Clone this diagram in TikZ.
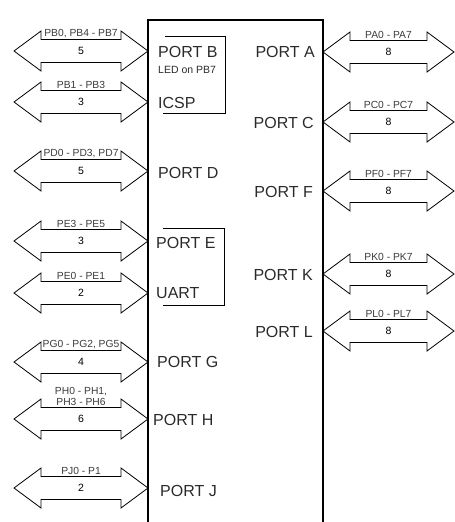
\documentclass[tikz,border=0pt]{standalone}
\usepackage{fontspec}
\setmainfont{Liberation Sans}
\usetikzlibrary{positioning, calc}
\usepackage{xcolor}
\definecolor{chipgray}{HTML}{2A2A2A}
\definecolor{pingray}{HTML}{3A3A3A}

\tikzset{
  bus/.style={draw=black, line width=0.8pt, line join=miter},
  portlbl/.style={font=\fontsize{16}{18}\selectfont, text=chipgray, inner sep=0pt},
  ledlbl/.style={font=\fontsize{10.5}{12}\selectfont, text=chipgray, inner sep=0pt},
  pinlbl/.style={font=\fontsize{10.3}{11}\selectfont, text=pingray, inner sep=0pt, align=center, anchor=south},
  cntlbl/.style={font=\fontsize{10.5}{12}\selectfont, text=black, inner sep=0pt},
}

% bus arrow: name, x left tip, x right tip, y centre, pin text, count
\newcommand{\busarrow}[6]{%
  \draw[bus] (#2,#4) -- ++(27,-20) -- ++(0,8.5) -- (#3-27,#4-11.5) -- ++(0,-8.5)
    -- (#3,#4) -- ++(-27,20) -- ++(0,-8.5) -- (#2+27,#4+11.5) -- ++(0,8.5) -- cycle;
  \node[pinlbl] (#1pins) at ({(#2+#3)/2},#4-12.8) {#5};
  \node[cntlbl] (#1n) at ({(#2+#3)/2},#4) {#6};
}

\begin{document}
\begin{tikzpicture}[x=1pt, y=-1pt]
  \useasboundingbox (0,0) rectangle (455,522);

  % the chip, open at the bottom
  \coordinate (chipnw) at (148,20);
  \coordinate (chipne) at (323,20);
  \draw[line width=1.4pt] (chipnw |- 0,523) -- (chipnw) -- (chipne) -- (chipne |- 0,523);

  % left ports
  \node[portlbl, anchor=west] (portB) at (158,52) {PORT B};
  \node[ledlbl, anchor=west] (ledB) at (158,70) {LED on PB7};
  \node[portlbl, anchor=west] (icsp) at (158,103) {ICSP};
  \node[portlbl, anchor=west] (portD) at (158,173) {PORT D};
  \node[portlbl, anchor=west] (portE) at (156,243) {PORT E};
  \node[portlbl, anchor=west] (uart) at (156,293) {UART};
  \node[portlbl, anchor=west] (portG) at (157,362) {PORT G};
  \node[portlbl, anchor=west] (portH) at (153,420) {PORT H};
  \node[portlbl, anchor=west] (portJ) at (160,491) {PORT J};

  % right ports
  \node[portlbl, anchor=east] (portA) at (315,52) {PORT A};
  \node[portlbl, anchor=east] (portC) at (314,123) {PORT C};
  \node[portlbl, anchor=east] (portF) at (313,192) {PORT F};
  \node[portlbl, anchor=east] (portK) at (313,275) {PORT K};
  \node[portlbl, anchor=east] (portL) at (313,332) {PORT L};

  % brackets for shared ports
  \draw[line width=0.8pt] (165,36) -- (225,36) -- (225,113) -- (163,113);
  \draw[line width=0.8pt] (163,228) -- (224,228) -- (224,305) -- (163,305);

  % buses
  \foreach \nm/\y/\pins/\cnt in {pb/51/{PB0, PB4 - PB7}/5, icspb/102/{PB1 - PB3}/3,
      pd/171/{PD0 - PD3, PD7}/5, pe/241/{PE3 - PE5}/3, uarte/293/{PE0 - PE1}/2,
      pg/362/{PG0 - PG2, PG5}/4, ph/419/{PH0 - PH1,\\PH3 - PH6}/6, pj/488/{PJ0 - P1}/2}
    \busarrow{\nm}{14}{148}{\y}{\pins}{\cnt};
  \foreach \nm/\y/\pins in {pa/52/{PA0 - PA7}, pc/122/{PC0 - PC7}, pf/191/{PF0 - PF7},
      pk/274/{PK0 - PK7}, pl/331/{PL0 - PL7}}
    \busarrow{\nm}{323}{454}{\y}{\pins}{8};
\end{tikzpicture}
\end{document}
